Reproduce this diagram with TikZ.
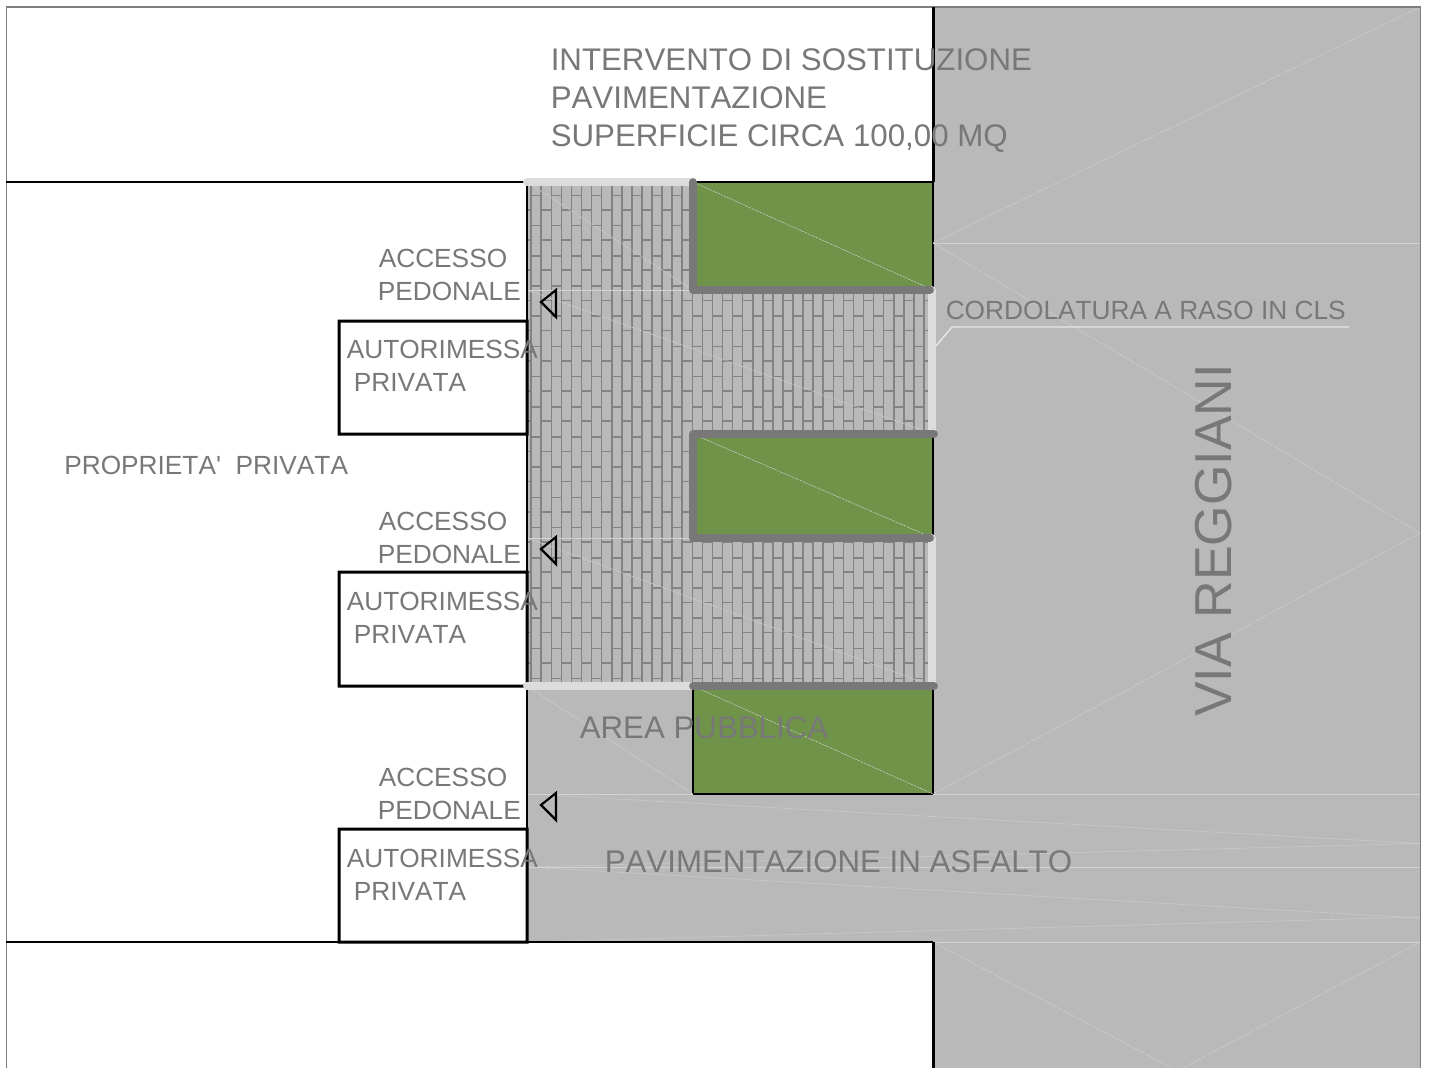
\documentclass[tikz,border=0pt]{standalone}
\usepackage{fontspec}
\setmainfont[Kerning=Off,Ligatures=TeXOff]{Liberation Sans}
\definecolor{asph}{HTML}{B9B9B9}
\definecolor{ink}{HTML}{787878}
\definecolor{curb}{HTML}{DCDCDC}
\definecolor{lawn}{HTML}{6F9349}
\definecolor{hatch}{HTML}{D2D2D2}
\newcommand{\fs}[1]{\fontsize{#1}{#1}\selectfont}
\tikzset{
  label/.style={anchor=base west,inner sep=0pt,text=ink},
  big/.style={label,font=\fs{23.45}},
  mid/.style={label,font=\fs{19.7}},
  thinhatch/.style={draw=hatch,line width=0.4pt,dash pattern=on 1.6pt off 0.7pt},
  softhatch/.style={draw=hatch,line width=0.45pt},
  wall/.style={draw=black,line width=1.2pt},
  heavywall/.style={fill=black},
  bed/.style={draw=black,line width=1.2pt,fill=lawn},
  grayedge/.style={draw=ink,line width=5.8pt,line cap=round,line join=round},
  lightedge/.style={draw=curb,line width=5.8pt,line cap=round},
  marker/.style={draw=black,line width=1.6pt,line join=miter},
  brick/.style={fill=ink!92!white}
}
\begin{document}
\begin{tikzpicture}[x=0.75pt,y=-0.75pt]
\useasboundingbox (0,0) rectangle (1429,1068);
\fill[white] (0,0) rectangle (1429,1068);
% asphalt
\fill[asph] (933,7) rectangle (1420,1068);
\fill[asph] (527,182) rectangle (933,942);
% paved bricks
\begin{scope}
\clip (527,182) -- (693,182) -- (693,290) -- (930,290) -- (930,434) -- (693,434) -- (693,538) -- (930,538) -- (930,686) -- (527,686) -- cycle;
\foreach \k in {0,...,39}{
  \path[brick] ({531.2+10.07*\k-0.8},182) rectangle ({531.2+10.07*\k+0.8},686);
}
\foreach \k in {-1,...,39}{
  \pgfmathsetmacro{\xa}{531.2+10.07*\k}
  \pgfmathsetmacro{\xb}{\xa+10.07}
  \pgfmathsetmacro{\yo}{ifthenelse(mod(\k+2,2)==0,195.3,209.7)}
  \foreach \n in {-1,...,16}{
    \path[brick] (\xa,{\yo+30.2*\n-0.8}) rectangle (\xb,{\yo+30.2*\n+0.8});
  }
}
\end{scope}
% planting beds
\path[bed] (693,182) rectangle (933,290);
\path[bed] (693,434) rectangle (933,538);
\path[bed] (693,686) rectangle (933,794);
% construction hatching
\draw[thinhatch] (527,182) -- (693,290);
\draw[softhatch] (527,290) -- (693,290);
\draw[thinhatch] (527,290) -- (933,434);
\draw[softhatch] (527,538) -- (693,538);
\draw[thinhatch] (527,538) -- (933,686);
\draw[thinhatch] (693,182) -- (933,290);
\draw[thinhatch] (693,434) -- (933,538);
\draw[thinhatch] (693,686) -- (933,794);
\draw[thinhatch] (527,686) -- (693,794);
\draw[thinhatch] (933,243) -- (1420,7);
\draw[softhatch] (933,243) -- (1420,243);
\draw[thinhatch] (933,243) -- (1420,533);
\draw[thinhatch] (1420,533) -- (933,794);
\draw[softhatch] (527,794) -- (693,794) (933,794) -- (1420,794);
\draw[thinhatch] (527,794) -- (1420,843.5);
\draw[thinhatch] (527,867) -- (1420,843.5);
\draw[softhatch] (527,867) -- (1420,867);
\draw[thinhatch] (527,867) -- (1420,918);
\draw[thinhatch] (527,942) -- (1420,917);
\draw[softhatch] (933,942) -- (1420,942);
\draw[thinhatch] (933,942) -- (1172,1068);
\draw[thinhatch] (1420,942) -- (1183,1068);
% frame and walls
\draw[draw=ink!95,line width=1.1pt] (6.5,1068) -- (6.5,7) -- (1420.5,7) -- (1420.5,1068);
\path[heavywall] (931.5,7) rectangle (934.5,182);
\draw[wall] (6,182) -- (693,182);
\draw[wall] (527,182) -- (527,942);
\draw[wall] (6,942) -- (933,942);
\path[heavywall] (931.5,942) rectangle (934.5,1068);
\path[heavywall,even odd rule] (337.5,319.5) rectangle (528.5,435.5) (340.5,322.5) rectangle (525.5,432.5);
\path[heavywall,even odd rule] (337.5,570.5) rectangle (528.5,687.5) (340.5,573.5) rectangle (525.5,684.5);
\path[heavywall,even odd rule] (337.5,827.5) rectangle (528.5,943.5) (340.5,830.5) rectangle (525.5,940.5);
% curbs
\draw[lightedge] (527,182) -- (690,182);
\draw[lightedge] (527,686) -- (690,686);
\draw[lightedge] (932,290) -- (932,434);
\draw[lightedge] (932,538) -- (932,686);
\draw[grayedge] (693,182) -- (693,290) -- (930,290);
\draw[grayedge] (934,434) -- (693,434) -- (693,538) -- (930,538);
\draw[grayedge] (693,686) -- (934,686);
\draw[draw=curb!70!white,line width=1.1pt] (935,347) -- (952,327) -- (1349,327);
% access markers
\draw[marker] (541,302) -- (556,290) -- (556,317) -- cycle;
\draw[marker] (541,549) -- (556,537) -- (556,564) -- cycle;
\draw[marker] (541,805) -- (556,793) -- (556,820) -- cycle;
% labels
\node[big] (t1) at (550.5,70) {INTERVENTO DI SOSTITUZIONE};
\node[big] (t2) at (550.5,108) {PAVIMENTAZIONE};
\node[big] (t3) at (550.5,146) {SUPERFICIE CIRCA 100,00 MQ};
\node[mid] (p1) at (64,474) {PROPRIETA'\ \ PRIVATA};
\node[mid] (a1) at (378.5,267) {ACCESSO};
\node[mid] (b1) at (377.5,300) {PEDONALE};
\node[mid] (c1) at (346.5,358) {AUTORIMESSA};
\node[mid] (d1) at (353.5,391) {PRIVATA};
\node[mid] (a2) at (378.5,530) {ACCESSO};
\node[mid] (b2) at (377.5,563) {PEDONALE};
\node[mid] (c2) at (346.5,610) {AUTORIMESSA};
\node[mid] (d2) at (353.5,643) {PRIVATA};
\node[mid] (a3) at (378.5,786) {ACCESSO};
\node[mid] (b3) at (377.5,819) {PEDONALE};
\node[mid] (c3) at (346.5,867) {AUTORIMESSA};
\node[mid] (d3) at (353.5,900) {PRIVATA};
\node[mid] (cord) at (945.5,319) {CORDOLATURA A RASO IN CLS};
\node[big] (area) at (579.5,738) {AREA PUBBLICA};
\node[big] (asf) at (604.5,872.5) {PAVIMENTAZIONE IN ASFALTO};
\node[label,font=\fs{39},rotate=90] (via) at (1231,717) {VIA REGGIANI};
\end{tikzpicture}
\end{document}
